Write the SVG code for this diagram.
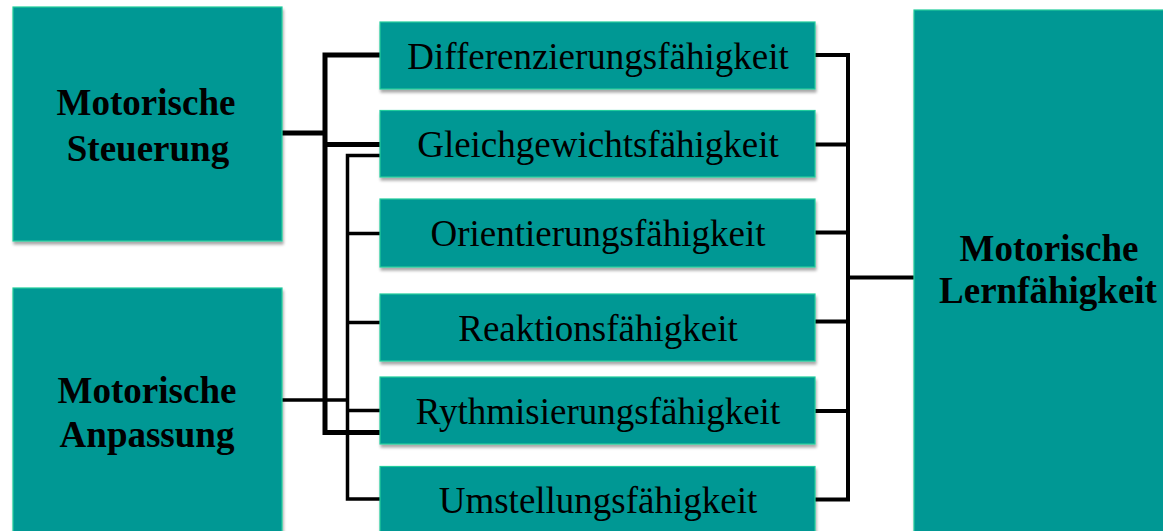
<svg xmlns="http://www.w3.org/2000/svg" width="1163" height="531" viewBox="0 0 1163 531">
  <defs>
    <filter id="shadow" x="-5%" y="-5%" width="115%" height="120%">
      <feGaussianBlur in="SourceAlpha" stdDeviation="1.5"/>
      <feOffset dx="1" dy="3" result="blur"/>
      <feComponentTransfer><feFuncA type="linear" slope="0.35"/></feComponentTransfer>
      <feMerge><feMergeNode/><feMergeNode in="SourceGraphic"/></feMerge>
    </filter>
    <style>
      .box { fill: #009894; stroke: #22cc9c; stroke-width: 1.2; filter: url(#shadow); }
      .main { font-family: "Liberation Serif", "Times New Roman", serif; font-weight: bold; font-size: 37px; fill: #000; text-anchor: middle; }
      .item { font-family: "Liberation Serif", "Times New Roman", serif; font-size: 37px; fill: #000; text-anchor: middle; }
      .thick { stroke: #000; stroke-width: 5; fill: none; stroke-linejoin: miter; }
      .thin { stroke: #000; stroke-width: 3.5; fill: none; stroke-linejoin: miter; }
      .right { stroke: #000; stroke-width: 4; fill: none; stroke-linejoin: miter; }
    </style>
  </defs>
  <rect width="1163" height="531" fill="#fff"/>

  <!-- connectors -->
  <g id="connectors">
    <!-- Steuerung branch -->
    <path class="thick" d="M282 133 H325"/>
    <path class="thick" d="M380 55 H325 V432.5 H380"/>
    <path class="thick" d="M325 144.5 H380"/>
    <!-- Anpassung branch -->
    <path class="thin" d="M282 400 H347.5"/>
    <path class="thin" d="M380 155.5 H347.5 V499 H380"/>
    <path class="thin" d="M347.5 233.5 H380"/>
    <path class="thin" d="M347.5 322.5 H380"/>
    <path class="thin" d="M347.5 410.5 H380"/>
    <!-- collector to Lernfähigkeit -->
    <path class="right" d="M815 55 H848 V499.5 H815"/>
    <path class="right" d="M815 144.5 H848"/>
    <path class="right" d="M815 232.5 H848"/>
    <path class="right" d="M815 321.5 H848"/>
    <path class="right" d="M815 411 H848"/>
    <path class="right" d="M848 277.5 H914"/>
  </g>

  <g id="steuerung">
    <rect class="box" x="13" y="7" width="269" height="234"/>
    <text class="main" x="146" y="115">Motorische</text>
    <text class="main" x="148" y="161">Steuerung</text>
  </g>

  <g id="anpassung">
    <rect class="box" x="13" y="288" width="269" height="250"/>
    <text class="main" x="147" y="403">Motorische</text>
    <text class="main" x="147" y="447">Anpassung</text>
  </g>

  <g id="lernfaehigkeit">
    <rect class="box" x="914" y="10" width="260" height="530"/>
    <text class="main" x="1049" y="261">Motorische</text>
    <text class="main" x="1048" y="303">Lernfähigkeit</text>
  </g>

  <g id="differenzierung">
    <rect class="box" x="380" y="22" width="435" height="67"/>
    <text class="item" x="598" y="68.5">Differenzierungsfähigkeit</text>
  </g>

  <g id="gleichgewicht">
    <rect class="box" x="380" y="110.5" width="435" height="66.5"/>
    <text class="item" x="598" y="157">Gleichgewichtsfähigkeit</text>
  </g>

  <g id="orientierung">
    <rect class="box" x="380" y="199" width="435" height="68"/>
    <text class="item" x="598" y="245.5">Orientierungsfähigkeit</text>
  </g>

  <g id="reaktion">
    <rect class="box" x="380" y="294" width="435" height="67"/>
    <text class="item" x="598" y="341">Reaktionsfähigkeit</text>
  </g>

  <g id="rhythmisierung">
    <rect class="box" x="380" y="377" width="435" height="67"/>
    <text class="item" x="598" y="424">Rythmisierungsfähigkeit</text>
  </g>

  <g id="umstellung">
    <rect class="box" x="380" y="466.5" width="435" height="70"/>
    <text class="item" x="598" y="513">Umstellungsfähigkeit</text>
  </g>
</svg>
